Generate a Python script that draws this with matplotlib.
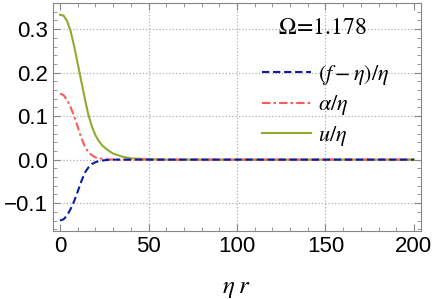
import numpy as np
import matplotlib
matplotlib.use('Agg')
import matplotlib.pyplot as plt
from matplotlib.ticker import MultipleLocator

plt.rcParams['mathtext.fontset'] = 'stix'

# values
r = [0, 2, 4, 6, 8, 10, 12, 14, 16, 18, 20, 22, 24, 26, 28, 30, 35, 40, 50, 60, 80, 100, 125, 150, 175, 200]
f_eta = [-0.140, -0.137, -0.128, -0.113, -0.095, -0.073, -0.050, -0.030, -0.018, -0.010, -0.006, -0.003,
         -0.002, -0.001, -0.0005, 0.0, 0.0, 0.0, 0.0, 0.0, 0.0, 0.0, 0.0, 0.0, 0.0, 0.0]
alpha = [0.152, 0.148, 0.137, 0.120, 0.100, 0.075, 0.050, 0.030, 0.017, 0.010, 0.005, 0.003,
         0.002, 0.001, 0.0005, 0.0, 0.0, 0.0, 0.0, 0.0, 0.0, 0.0, 0.0, 0.0, 0.0, 0.0]
u = [0.333, 0.331, 0.318, 0.295, 0.260, 0.220, 0.180, 0.140, 0.103, 0.076, 0.056, 0.042,
     0.032, 0.025, 0.019, 0.014, 0.007, 0.003, 0.001, 0.0, 0.0, 0.0, 0.0, 0.0, 0.0, 0.0]
labels = [r'$(f-\eta)/\eta$', r'$\alpha/\eta$', r'$u/\eta$']
yticks = [-0.1, 0.0, 0.1, 0.2, 0.3]
yticklabels = ['\u22120.1', '0.0', '0.1', '0.2', '0.3']
xgrid = [50, 100, 150]

fig = plt.figure(figsize=(4.36, 2.99), dpi=100)
ax = fig.add_axes([53/436, 1-231/299, 368/436, 228/299])

for g in xgrid:
    ax.axvline(g, color='#b0b0b0', ls=':', lw=0.9, zorder=0)
for g in yticks:
    ax.axhline(g, color='#b0b0b0', ls=':', lw=0.9, zorder=0)

ax.plot(r, u, color='#8fac2e', lw=1.5, label=labels[2])
ax.plot(r, alpha, color='#ff5a5a', lw=1.5, ls=(0, (4, 1.5, 1.2, 1.5)), label=labels[1])
ax.plot(r, f_eta, color='#0c1aa6', lw=1.5, ls=(0, (3.5, 1.8)), label=labels[0])

ax.set_xlim(-4, 204)
ax.set_ylim(-0.164, 0.36)
ax.xaxis.set_major_locator(MultipleLocator(50))
ax.xaxis.set_minor_locator(MultipleLocator(10))
ax.yaxis.set_minor_locator(MultipleLocator(0.02))
ax.set_yticks(yticks)
ax.set_yticklabels(yticklabels)
ax.tick_params(which='both', direction='in', top=True, right=True, color='#888888')
ax.tick_params(which='major', length=5, labelsize=16)
ax.tick_params(which='minor', length=3)
for t in ax.get_xticklabels() + ax.get_yticklabels():
    t.set_family('Liberation Sans')
for s in ax.spines.values():
    s.set_color('#888888')

ax.set_xlabel(r'$\eta\;r$', fontsize=18, labelpad=14)
ax.text(148, 0.305, r'$\Omega\!=\!1.178$', fontsize=17, ha='center', va='center')

h, l = ax.get_legend_handles_labels()
leg = ax.legend(h[::-1], l[::-1], loc='upper left', bbox_to_anchor=(0.545, 0.775), frameon=False,
                fontsize=16, handlelength=2.2, handletextpad=0.3, labelspacing=0.28, borderaxespad=0)

fig.savefig('out.png', dpi=100)
